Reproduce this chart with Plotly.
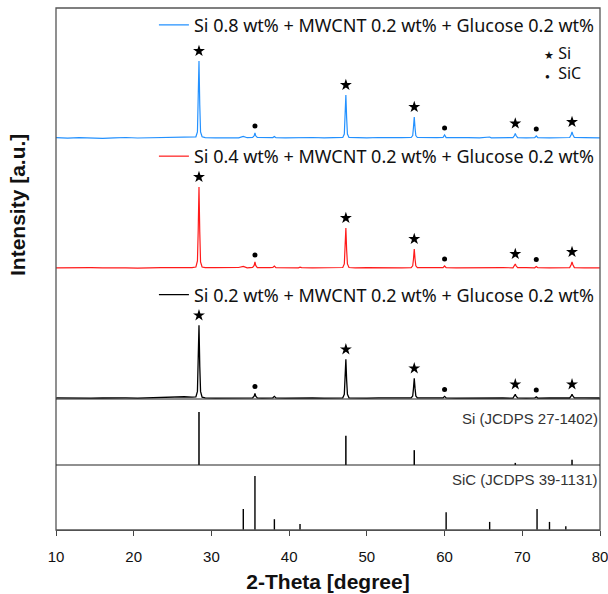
import plotly.graph_objects as go

# ---------------- data ----------------
TWO_THETA = [
    10, 11.5, 13, 14.5, 16, 17.5, 19, 20.5, 22, 23.5,
    24.5, 25.5, 26.5, 27.5, 28.0, 28.2, 28.3, 28.4, 28.5, 28.6,
    28.8, 29.2, 30.5, 32, 33.5, 34.1, 34.6, 35.3, 35.5, 35.6,
    35.7, 35.9, 36.5, 37.5, 37.9, 38.1, 38.3, 39.5, 41.2, 41.4,
    41.6, 43, 44.5, 46, 46.9, 47.1, 47.2, 47.3, 47.4, 47.5,
    47.7, 48.5, 50, 51.5, 53, 54.5, 55.7, 55.9, 56.0, 56.1,
    56.2, 56.3, 56.5, 57.5, 59, 59.8, 60.0, 60.2, 61.5, 63,
    64.5, 65.6, 65.8, 66.0, 67.5, 68.8, 69.0, 69.1, 69.2, 69.4,
    70.5, 71.6, 71.8, 72.0, 73.5, 75, 76.1, 76.3, 76.4, 76.5,
    76.7, 78, 79, 80,
]

INT_SI08 = [
    0.3, -0.2, 0.4, 0.1, -0.3, 0.2, 0.5, 0, 0.3, 0.6,
    0.4, 0.8, 0.5, 0.7, 1.2, 6, 35, 77, 33, 6,
    1.2, 0.4, 0.2, 0.5, 0.1, 1.5, 0.3, 0.5, 2.2, 5,
    2.2, 0.5, 0.3, 0.1, 0.4, 1.5, 0.3, 0.2, 0.3, 1,
    0.3, 0.5, 0.1, 0.4, 0.6, 4, 21, 43, 20, 4,
    0.6, 0.3, 0.2, 0.5, 0.1, 0.4, 0.5, 2.5, 11, 21,
    10, 2.5, 0.5, 0.2, 0.3, 0.5, 3, 0.4, 0.1, 0.3,
    0.2, 0.3, 1, 0.2, 0.4, 0.3, 2.5, 4.5, 2.5, 0.4,
    0.2, 0.3, 2, 0.3, 0.1, 0.4, 0.5, 3.5, 6, 3.5,
    0.5, 0.3, 0.1, 0.2,
]

INT_SI04 = [
    0.2, 0.4, -0.1, 0.3, 0.1, 0.5, 0.2, -0.2, 0.4, 0.3,
    0.5, 0.3, 0.6, 0.4, 1.0, 7, 38, 81, 36, 6,
    1.0, 0.3, 0.4, 0.2, 0.5, 1.5, 0.2, 0.6, 2.5, 6,
    2.5, 0.4, 0.2, 0.3, 0.5, 2, 0.4, 0.1, 0.2, 0.8,
    0.3, 0.2, 0.4, 0.1, 0.5, 4, 19, 40, 18, 4,
    0.5, 0.2, 0.4, 0.1, 0.3, 0.2, 0.4, 2.2, 9, 19,
    9, 2.2, 0.4, 0.3, 0.1, 0.3, 2, 0.3, 0.2, 0.4,
    0.1, 0.3, 0.8, 0.2, 0.3, 0.2, 2.2, 4, 2.2, 0.3,
    0.4, 0.2, 1.5, 0.3, 0.2, 0.1, 0.4, 3.5, 6, 3.5,
    0.4, 0.2, 0.3, 0.1,
]

INT_SI02 = [
    0.5, 0.2, 0.6, 0.3, 0.4, 0.1, 0.5, 0.3, 0.6, 0.9,
    1.5, 2, 1.6, 1.2, 1.5, 7, 34, 73, 32, 7,
    1.2, 0.5, 0.3, 0.6, 0.2, 1, 0.4, 0.6, 2.2, 5,
    2.2, 0.5, 0.3, 0.4, 0.6, 2, 0.4, 0.3, 0.5, 0.8,
    0.3, 0.4, 0.2, 0.5, 0.6, 4, 19, 39, 18, 4,
    0.6, 0.4, 0.3, 0.5, 0.2, 0.6, 0.5, 2.5, 10, 20,
    10, 2.5, 0.5, 0.3, 0.4, 0.5, 2, 0.4, 0.3, 0.5,
    0.2, 0.4, 0.7, 0.3, 0.4, 0.3, 2.2, 4, 2.2, 0.4,
    0.3, 0.4, 1.5, 0.3, 0.4, 0.2, 0.4, 2.5, 4, 2.5,
    0.5, 0.6, 0.3, 0.4,
]

SAMPLE_LABELS = [
    "Si 0.8 wt% + MWCNT 0.2 wt% + Glucose 0.2 wt%",
    "Si 0.4 wt% + MWCNT 0.2 wt% + Glucose 0.2 wt%",
    "Si 0.2 wt% + MWCNT 0.2 wt% + Glucose 0.2 wt%",
]

# peak markers (positions in 2-theta)
SI_PEAKS = [28.4, 47.3, 56.1, 69.1, 76.4]
SIC_PEAKS = [35.6, 60.0, 71.8]

# reference patterns
SI_REF_POS = [28.4, 47.3, 56.1, 69.1, 76.4]
SI_REF_INT = [100, 55, 28, 4, 10]
SIC_REF_POS = [34.1, 35.6, 38.1, 41.4, 60.2, 65.8, 71.9, 73.5, 75.6]
SIC_REF_INT = [39, 100, 20, 11, 33, 15, 39, 15, 7]

SI_REF_LABEL = "Si (JCDPS 27-1402)"
SIC_REF_LABEL = "SiC (JCDPS 39-1131)"

# ---------------- figure ----------------
FONT_LEG = "Noto Sans, Open Sans, sans-serif"
FONT_AX = "Liberation Sans, Arial, sans-serif"

fig = go.Figure()

samples = [
    (INT_SI08, "#2391FF", "y", "legend", 1.2),
    (INT_SI04, "#FF1A1A", "y2", "legend2", 1.2),
    (INT_SI02, "#000000", "y3", "legend3", 1.3),
]
for (vals, col, yax, leg, lw), lab in zip(samples, SAMPLE_LABELS):
    fig.add_trace(go.Scatter(x=TWO_THETA, y=vals, mode="lines", name=lab,
                             line=dict(color=col, width=lw), yaxis=yax,
                             xaxis="x", legend=leg))
    # peak markers derived from curve values
    si_y = [vals[TWO_THETA.index(p)] + 10 for p in SI_PEAKS]
    sic_y = [vals[TWO_THETA.index(p)] + 7 for p in SIC_PEAKS]
    fig.add_trace(go.Scatter(x=SI_PEAKS, y=si_y, mode="markers", showlegend=False,
                             marker=dict(symbol="star", size=9, color="black"),
                             yaxis=yax, xaxis="x"))
    fig.add_trace(go.Scatter(x=SIC_PEAKS, y=sic_y, mode="markers", showlegend=False,
                             marker=dict(symbol="circle", size=5, color="black"),
                             yaxis=yax, xaxis="x"))


def sticks(pos, inten):
    xs, ys = [], []
    for p, h in zip(pos, inten):
        xs += [p, p, None]
        ys += [0, h, None]
    return xs, ys


sx, sy = sticks(SI_REF_POS, SI_REF_INT)
fig.add_trace(go.Scatter(x=sx, y=sy, mode="lines", showlegend=False,
                         line=dict(color="black", width=1.5), yaxis="y4", xaxis="x"))
cx, cy = sticks(SIC_REF_POS, SIC_REF_INT)
fig.add_trace(go.Scatter(x=cx, y=cy, mode="lines", showlegend=False,
                         line=dict(color="black", width=1.4), yaxis="y5", xaxis="x"))

hidden = dict(showticklabels=False, showgrid=False, zeroline=False, ticks="",
              showline=False, fixedrange=True)

leg_common = dict(xanchor="left", yanchor="middle", bgcolor="rgba(0,0,0,0)",
                  font=dict(family=FONT_LEG, size=18, color="#111"),
                  borderwidth=0, x=0.18)

fig.update_layout(
    width=608, height=594,
    margin=dict(l=56, r=8, t=8, b=64, autoexpand=False),
    paper_bgcolor="white", plot_bgcolor="white",
    xaxis=dict(domain=[0, 1], anchor="y5", range=[10, 80], dtick=10,
               ticks="outside", ticklen=5, tickcolor="#444", showline=True,
               linecolor="#444", linewidth=1.2, showgrid=False, zeroline=False,
               ticklabelstandoff=8, ticklabeloverflow="allow",
               tickfont=dict(family=FONT_AX, size=15, color="#111"),
               title=dict(text="<b>2-Theta [degree]</b>", standoff=10,
                          font=dict(family=FONT_AX, size=21, color="#111"))),
    yaxis=dict(domain=[0.7433, 1.0], range=[-4, 130], anchor="x", **hidden),
    yaxis2=dict(domain=[0.4943, 0.7433], range=[-4, 126], anchor="x", **hidden),
    yaxis3=dict(domain=[0.2510, 0.4943], range=[-0.6, 126.4], anchor="x", **hidden),
    yaxis4=dict(domain=[0.1245, 0.2510], range=[0, 124.5], anchor="x", **hidden),
    yaxis5=dict(domain=[0.0, 0.1245], range=[0, 120.4], anchor="x", **hidden),
    legend=dict(y=0.967, **leg_common),
    legend2=dict(y=0.7156, **leg_common),
    legend3=dict(y=0.4502, **leg_common),
    showlegend=True,
)

# frame and panel separators
fig.add_shape(type="rect", xref="paper", yref="paper", x0=0, x1=1, y0=0, y1=1,
              line=dict(color="#555", width=1.3), layer="above")
for yy in (0.2510, 0.1245):
    fig.add_shape(type="line", xref="paper", yref="paper", x0=0, x1=1, y0=yy, y1=yy,
                  line=dict(color="#222", width=1.1), layer="above")

ann = [
    dict(text="<b>Intensity [a.u.]</b>", x=-0.0717, y=0.6226, textangle=-90,
         xanchor="center", font=dict(family=FONT_AX, size=21, color="#111")),
    dict(text=SI_REF_LABEL, x=1.0, y=0.2141, xanchor="right",
         font=dict(family=FONT_AX, size=15, color="#333")),
    dict(text=SIC_REF_LABEL, x=1.0, y=0.0958, xanchor="right",
         font=dict(family=FONT_AX, size=15, color="#333")),
    dict(text="<span style='font-size:11px'>★</span> Si", x=0.893, y=0.914,
         xanchor="left", font=dict(family=FONT_LEG, size=16, color="#111")),
    dict(text="<span style='font-size:8px'>●</span>  SiC", x=0.895, y=0.8755,
         xanchor="left", font=dict(family=FONT_LEG, size=16, color="#111")),
]
for a in ann:
    fig.add_annotation(xref="paper", yref="paper", showarrow=False, yanchor="middle", **a)

# remove the browser's default 8px page margin so the figure fills the window
fig.write_html("out.html",
               config={"displayModeBar": False, "staticPlot": True},
               post_script="document.body.style.margin='0';"
                           "document.body.style.overflow='hidden';")
